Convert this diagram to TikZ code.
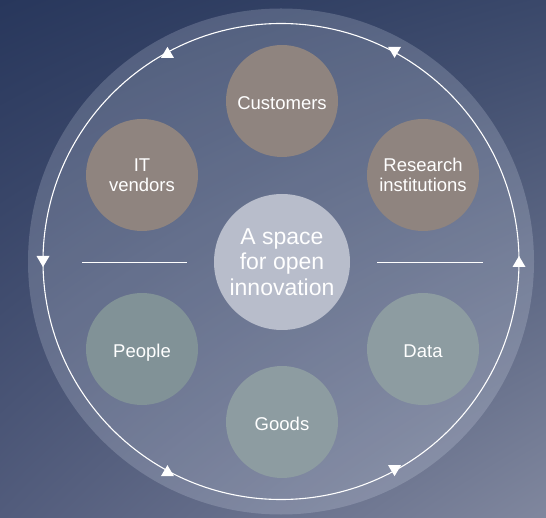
\documentclass[tikz,border=0pt]{standalone}
\usepackage{fontspec}
\setmainfont{Liberation Sans}
\usetikzlibrary{shadings,calc}
\definecolor{bgUL}{RGB}{40,55,92}
\definecolor{bgUR}{RGB}{58,72,106}
\definecolor{bgLL}{RGB}{82,92,124}
\definecolor{bgLR}{RGB}{128,135,158}
\definecolor{ringfill}{RGB}{225,232,245}
\definecolor{brownfill}{RGB}{143,132,127}
\definecolor{greyA}{RGB}{129,146,151}
\definecolor{greyB}{RGB}{141,156,161}
\definecolor{centerfill}{RGB}{184,189,203}
\begin{document}
\begin{tikzpicture}[x=1pt,y=-1pt,
  sat/.style={circle,minimum size=112pt,inner sep=0pt,text=white,align=center,
    font=\fontsize{18.5}{20.5}\selectfont},
  oneline/.style={text height=17pt,text depth=0pt},
  brownc/.style={sat,fill=brownfill},
  greyc/.style={sat,oneline,fill=#1},
  hub/.style={circle,minimum size=136pt,inner sep=0pt,fill=centerfill,text=white,
    align=center,font=\fontsize{23}{25.5}\selectfont},
  ringline/.style={white,line width=1.1pt},
  sepline/.style={white,line width=0.9pt},
  tri/.style={fill=white}]
\useasboundingbox (0,0) rectangle (546,518);
\shade[upper left=bgUL,upper right=bgUR,lower left=bgLL,lower right=bgLR] (0,0) rectangle (546,518);
% translucent disk
\coordinate (o) at (281,261.5);
\fill[ringfill,opacity=0.2] (o) circle (253pt);
% ring
\draw[ringline] (o) circle (238pt);
% triangles (up: tip at top)
\foreach \a in {118.5,0,241.5}{
  \fill[tri] ($(o)+(\a:238pt)$) ++(0,-5.5) -- ++(6.5,11) -- ++(-13,0) -- cycle;
}
\foreach \a in {61.5,180,298.5}{
  \fill[tri] ($(o)+(\a:238pt)$) ++(0,5.5) -- ++(6.5,-11) -- ++(-13,0) -- cycle;
}
% nodes
\node[hub] (c) at (282,262) {A space\\for open\\innovation};
\node[brownc,oneline] (cust) at (282,101) {Customers};
\node[brownc] (itv) at (142,175) {IT\\vendors};
\node[brownc] (res) at (423,175) {Research\\institutions};
\node[greyc=greyA] (ppl) at (142,349) {People};
\node[greyc=greyB] (dat) at (423,349) {Data};
\node[greyc=greyB] (goods) at (282,422) {Goods};
% separator lines
\coordinate (l1) at (82,262);
\coordinate (l2) at (187,262);
\coordinate (r1) at (377,262);
\coordinate (r2) at (483,262);
\draw[sepline] (l1) -- (l2);
\draw[sepline] (r1) -- (r2);
\end{tikzpicture}
\end{document}
